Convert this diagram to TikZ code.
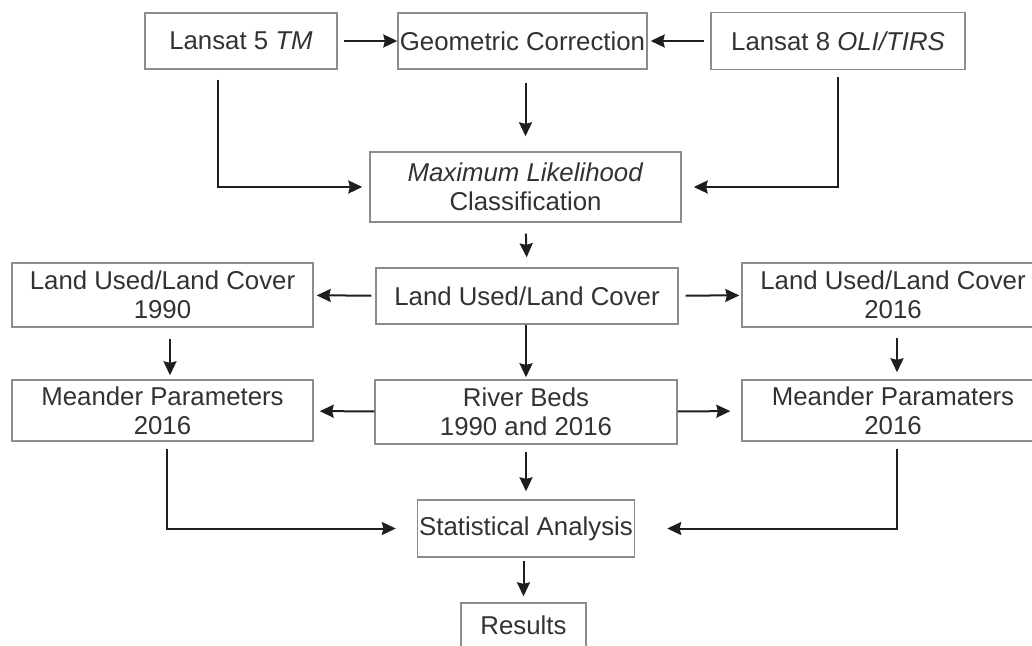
\documentclass[tikz,border=0pt]{standalone}
\definecolor{boxgray}{RGB}{140,140,140}
\definecolor{textgray}{RGB}{50,50,50}
\definecolor{arrowgray}{RGB}{30,30,30}
\usepackage{fontspec}
\setmainfont{Liberation Sans}
\usepackage{tikz}
\usetikzlibrary{arrows.meta}

\begin{document}
\begin{tikzpicture}[x=0.5pt,y=-0.5pt]

%
% Styles
%
\tikzstyle{stage} = [rectangle,draw=boxgray,line width=0.7pt,text=textgray,align=center,
                     inner sep=0pt,font=\fontsize{12.9}{14.6}\selectfont]
\tikzstyle{edge}  = [->,>={Stealth[length=7pt,width=6.5pt,inset=0.8pt]},line width=1pt,draw=arrowgray]

\useasboundingbox (0,0) rectangle (1032,646);

% input data
\node[stage,minimum width=96pt,minimum height=28pt]    (l5)   at ( 241,  41)   {Lansat 5 \textit{TM}};
\node[stage,minimum width=124.5pt,minimum height=28pt] (geo)  at ( 522.5, 41)  {Geometric Correction};
\node[stage,minimum width=127pt,minimum height=28.5pt] (l8)   at ( 838,  41)   {Lansat 8 \textit{OLI/TIRS}};

% classification
\node[stage,minimum width=155.5pt,minimum height=35pt] (mlc)  at ( 525.5, 187) {\textit{Maximum Likelihood}\\Classification};

% land use
\node[stage,minimum width=150.5pt,minimum height=32pt] (lu90) at ( 162.5, 295) {Land Used/Land Cover\\1990};
\node[stage,minimum width=151pt,minimum height=28pt]   (lu)   at ( 527,  296)  {Land Used/Land Cover};
\node[stage,minimum width=151pt,minimum height=32pt]   (lu16) at ( 893,  295)  {Land Used/Land Cover\\2016};

% river beds
\node[stage,minimum width=150.5pt,minimum height=30.5pt] (mp90) at ( 162.5, 410.5) {Meander Parameters\\2016};
\node[stage,minimum width=151pt,minimum height=32pt]     (rb)   at ( 526,  412)    {River Beds\\1990 and 2016};
\node[stage,minimum width=151pt,minimum height=30.5pt]   (mp16) at ( 893,  410.5)  {Meander Paramaters\\2016};

% analysis
\node[stage,minimum width=108.5pt,minimum height=28.5pt] (sa)  at ( 526,  528.5) {Statistical Analysis};
\node[stage,minimum width=62.5pt,minimum height=22pt]    (res) at ( 523.5, 625)  {Results};

\draw[edge,shorten <=3pt] (l5) -- (geo);
\draw[edge,shorten <=3pt,shorten >=1.5pt] (l8) -- (geo);
\draw[edge,shorten <=6.5pt,shorten >=7.5pt] (geo.south -| mlc.north) -- (mlc.north);
\draw[edge,shorten <=5pt,shorten >=3.5pt] ([xshift=-11.5pt]l5.south) |- (mlc.west);
\draw[edge,shorten <=3.5pt,shorten >=6pt] (l8.south) |- (mlc.east);

\draw[edge,shorten <=5.5pt,shorten >=5pt] (mlc.south) -- (lu.north);
\draw[edge,shorten <=2pt,shorten >=1.5pt] (lu) -- (lu90);
\draw[edge,shorten <=3.5pt,shorten >=1pt] (lu) -- (lu16);

\draw[edge,shorten <=5.5pt,shorten >=2pt] ([xshift=3.75pt]lu90.south) -- ([xshift=3.75pt]mp90.north);
\draw[edge,shorten >=1pt] (lu.south -| rb.north) -- (rb.north);
\draw[edge,shorten <=5pt,shorten >=3.5pt] ([xshift=2pt]lu16.south) -- ([xshift=2pt]mp16.north);

\draw[edge,shorten >=3pt] (rb) -- (mp90);
\draw[edge,shorten >=5.5pt] (rb) -- (mp16);
\draw[edge,shorten <=3.5pt,shorten >=4pt] (rb) -- (sa);
\draw[edge,shorten <=3.5pt,shorten >=10.5pt] ([xshift=2.25pt]mp90.south) |- (sa.west);
\draw[edge,shorten <=3.5pt,shorten >=16pt] ([xshift=2pt]mp16.south) |- (sa.east);

\draw[edge,shorten <=1.5pt,shorten >=3pt] (sa.south -| res.north) -- (res.north);

\end{tikzpicture}
\end{document}
